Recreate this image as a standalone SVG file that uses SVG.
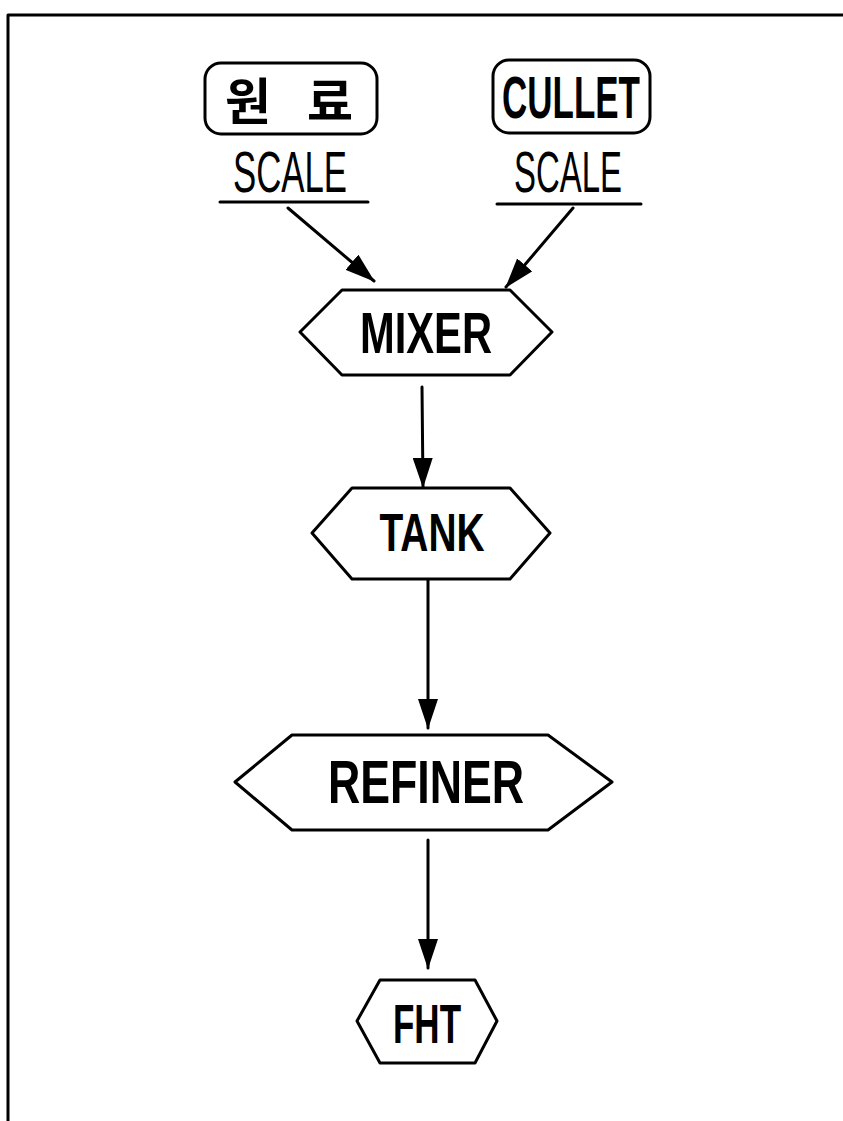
<svg xmlns="http://www.w3.org/2000/svg" width="843" height="1121" viewBox="0 0 843 1121">
<style>
.ln{stroke:#000;stroke-width:3;fill:none;stroke-linecap:round;stroke-linejoin:round}
.nd{stroke:#000;stroke-width:3;fill:#fff;stroke-linejoin:round}
.lb{font-family:"Liberation Sans","Noto Sans CJK KR",sans-serif;font-weight:bold;fill:#000}
.sc{font-family:"Liberation Sans",sans-serif;fill:#000}
</style>
<defs>
<marker id="ahb" markerWidth="30" markerHeight="20" refX="29" refY="10" orient="auto" markerUnits="userSpaceOnUse" viewBox="0 0 30 20">
<path d="M0,0 L30,10 L0,20 Z" fill="#000"/>
</marker>
</defs>
<rect width="843" height="1121" fill="#fff"/>
<g id="frame">
<path class="ln" d="M8,1121 L8,15 L843,15"/>
</g>
<g id="raw">
<rect class="nd" x="205" y="63" width="172" height="71" rx="16"/>
<text class="lb" x="289" y="120" font-size="50" text-anchor="middle" font-family="Noto Sans CJK KR" word-spacing="22" xml:space="preserve">원 료</text>
<text class="sc" x="290" y="192" font-size="58" text-anchor="middle" textLength="114" lengthAdjust="spacingAndGlyphs">SCALE</text>
<path class="ln" d="M220,202 L368,202"/>
</g>
<g id="cullet">
<rect class="nd" x="493" y="60" width="157" height="73" rx="16"/>
<text class="lb" x="571" y="118" font-size="60" text-anchor="middle" textLength="138" lengthAdjust="spacingAndGlyphs">CULLET</text>
<text class="sc" x="568" y="192" font-size="58" text-anchor="middle" textLength="108" lengthAdjust="spacingAndGlyphs">SCALE</text>
<path class="ln" d="M497,204 L641,204"/>
</g>
<g id="mixer">
<polygon class="nd" points="300,332 342,290 510,290 552,332 510,375 342,375"/>
<text class="lb" x="426" y="353" font-size="57" text-anchor="middle" textLength="132" lengthAdjust="spacingAndGlyphs">MIXER</text>
</g>
<g id="tank">
<polygon class="nd" points="312,533 352,488 510,488 550,533 510,579 352,579"/>
<text class="lb" x="432" y="551" font-size="54" text-anchor="middle" textLength="105" lengthAdjust="spacingAndGlyphs">TANK</text>
</g>
<g id="refiner">
<polygon class="nd" points="235,782 292,735 548,735 612,782 548,830 292,830"/>
<text class="lb" x="426" y="803" font-size="62" text-anchor="middle" textLength="196" lengthAdjust="spacingAndGlyphs">REFINER</text>
</g>
<g id="fht">
<polygon class="nd" points="357,1021 380,980 475,980 497,1021 475,1063 380,1063"/>
<text class="lb" x="427" y="1043" font-size="56" text-anchor="middle" textLength="68" lengthAdjust="spacingAndGlyphs">FHT</text>
</g>
<g id="connectors">
<path class="ln" d="M288,208 L374,281" marker-end="url(#ahb)"/>
<path class="ln" d="M573,208 L506,287" marker-end="url(#ahb)"/>
<path class="ln" d="M422,387 L423,487" marker-end="url(#ahb)"/>
<path class="ln" d="M428,580 L428,728" marker-end="url(#ahb)"/>
<path class="ln" d="M428,840 L428,968" marker-end="url(#ahb)"/>
</g>
</svg>
